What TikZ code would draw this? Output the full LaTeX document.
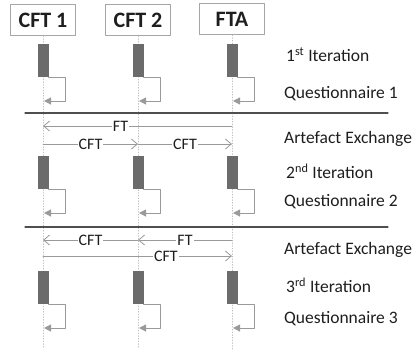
\documentclass[tikz,border=0pt]{standalone}
\usepackage{fontspec}
\setmainfont{Carlito}
\usetikzlibrary{arrows.meta}

\begin{document}
\begin{tikzpicture}[
    x=1pt,
    y=-1pt,
    line cap=round,
    line join=round
]

\definecolor{BoxGray}{HTML}{A6A6A6}
\definecolor{LifeGray}{HTML}{BDBDBD}
\definecolor{BarGray}{HTML}{6B6B6B}
\definecolor{ArrowGray}{HTML}{9A9A9A}
\definecolor{SepGray}{HTML}{4F4F4F}
\definecolor{InkBlack}{HTML}{1E1E1E}

\tikzset{
    head box/.style={
        draw=BoxGray,
        fill=white,
        line width=1pt,
        minimum width=65pt,
        minimum height=31pt,
        inner sep=0pt,
        text=InkBlack,
        font=\fontsize{22}{22}\selectfont\bfseries
    },
    lifeline/.style={
        draw=LifeGray,
        line width=0.7pt,
        dotted
    },
    bar/.style={
        fill=BarGray,
        draw=none,
        minimum width=11pt,
        minimum height=33pt,
        inner sep=0pt
    },
    self msg/.style={
        draw=ArrowGray,
        line width=1pt,
        -{Triangle[length=7pt,width=7pt]}
    },
    msg/.style={
        draw=ArrowGray,
        line width=0.8pt,
        -{Straight Barb[length=6pt,width=10pt]}
    },
    msg label/.style={
        fill=white,
        inner sep=1pt,
        text=InkBlack,
        font=\fontsize{16}{16}\selectfont
    },
    side label/.style={
        anchor=base west,
        inner sep=0pt,
        text=InkBlack,
        font=\fontsize{17.5}{17.5}\selectfont
    },
    separator/.style={
        draw=SepGray,
        line width=1.3pt
    }
}

\useasboundingbox (0,0) rectangle (418,349);

\node[head box] (cft1) at (43,20) {CFT 1};
\node[head box] (cft2) at (138,20) {CFT 2};
\node[head box] (fta) at (232,19) {FTA};

\foreach \x/\name in {43/cft1,138/cft2,232/fta} {
    \coordinate (\name-end) at (\x,349);
    \draw[lifeline] (\name.south) -- (\name-end);
    \foreach \y/\r in {126/1,144/2,240/3,256/4} {
        \coordinate (\name-m\r) at (\x,\y);
    }
}

\foreach \t/\k in {44/1,156/2,271/3} {
    \foreach \x/\name in {43/cft1,138/cft2,232/fta} {
        \node[bar] (\name-bar\k) at (\x,\t+16.5) {};
        \coordinate (\name-ret\k) at (\x+1,\t+57);
        \draw[self msg] (\name-bar\k.south east) -- ++(17,0) |- (\name-ret\k);
    }
}

\coordinate (sep1 a) at (25,113);
\coordinate (sep1 b) at (388,113);
\coordinate (sep2 a) at (25,227);
\coordinate (sep2 b) at (388,227);
\draw[separator] (sep1 a) -- (sep1 b);
\draw[separator] (sep2 a) -- (sep2 b);

\draw[msg] (fta-m1) -- node[msg label, pos=0.59] {FT} (cft1-m1);
\draw[msg] (cft1-m2) -- node[msg label] {CFT} (cft2-m2);
\draw[msg] (cft2-m2) -- node[msg label] {CFT} (fta-m2);
\draw[msg] (cft2-m3) -- node[msg label] {CFT} (cft1-m3);
\draw[msg] (fta-m3) -- node[msg label] {FT} (cft2-m3);
\draw[msg] (cft1-m4) -- node[msg label, pos=0.65] {CFT} (fta-m4);

\node[side label] (iter1) at (286,61.7) {1\textsuperscript{st} Iteration};
\node[side label] (quest1) at (284,98.3) {Questionnaire 1};
\node[side label] (exch2) at (284,143.3) {Artefact Exchange};
\node[side label] (iter2) at (286,178.3) {2\textsuperscript{nd} Iteration};
\node[side label] (quest2) at (284,206.7) {Questionnaire 2};
\node[side label] (exch3) at (284,254.3) {Artefact Exchange};
\node[side label] (iter3) at (286,292.7) {3\textsuperscript{rd} Iteration};
\node[side label] (quest3) at (284,323) {Questionnaire 3};

\end{tikzpicture}
\end{document}
